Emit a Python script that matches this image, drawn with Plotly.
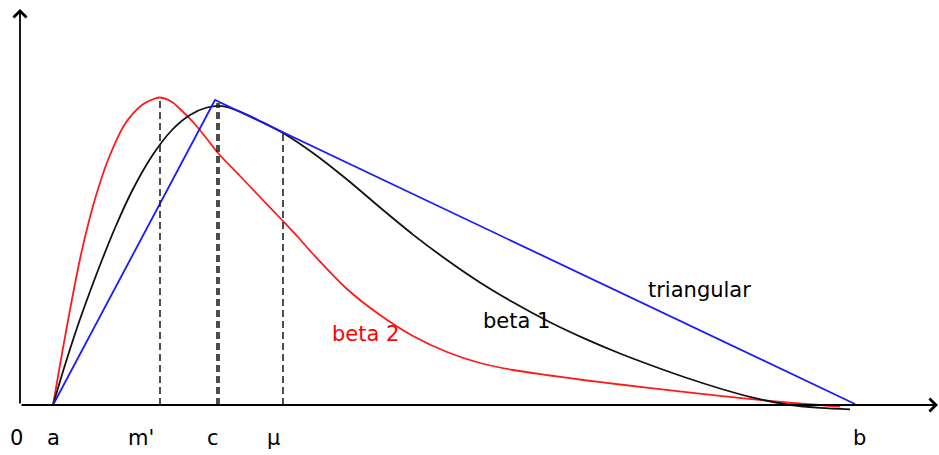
import plotly.graph_objects as go

# ---------------------------------------------
# Values
# (x = distance from the y axis, y = height above the x axis)
# ---------------------------------------------
beta2_x = [33, 40, 47, 53, 60, 65, 75, 88, 105, 122, 135, 140, 152, 160, 173, 187,
           198, 220, 240, 262, 277, 293, 327, 360, 393, 427, 460, 493, 530, 567,
           600, 633, 700, 767, 820]
beta2_y = [0, 40, 79, 111, 146, 168, 206, 245, 281, 300, 306.5, 307.5, 303, 296, 283, 266,
           252, 229, 208, 185, 169, 151, 116, 90, 69, 53, 42, 35, 29.5, 24.5,
           20.5, 16.6, 9.1, 2.5, -1.5]

beta1_x = [33, 45, 58, 68, 82, 95, 112, 132, 152, 170, 187, 202, 220, 240, 263, 293,
           327, 360, 393, 427, 460, 493, 530, 567, 600, 633, 667, 700, 733, 767,
           800, 830]
beta1_y = [0, 40, 80, 108, 145, 177, 214, 249, 275, 290, 297.5, 298.8, 293.4, 284, 272, 252,
           225.5, 197.5, 170.4, 145, 122.5, 102.7, 82.8, 65.4, 51.5, 39, 27, 16.5, 7.3, 0.5,
           -2.8, -4.3]

tri_x = [33, 195, 835]
tri_y = [0, 305, 1]

# dashed markers: m', c (two lines), mu
guide_x = [140, 197, 199, 263]
guide_top = [308, 302, 302, 272]

tick_x = [-4, 33, 121, 193, 253, 839]
tick_text = ["0", "a", "m'", "c", "μ", "b"]

curve_labels = ["triangular", "beta 1", "beta 2"]
curve_label_x = [679, 496, 345]
curve_label_y = [115, 84, 71]
curve_label_col = ["black", "black", "red"]

fig = go.Figure()

fig.add_trace(go.Scatter(x=beta2_x, y=beta2_y, mode="lines",
                         line=dict(color="#ff1a1a", width=1.8, shape="spline", smoothing=0.9),
                         showlegend=False))
fig.add_trace(go.Scatter(x=beta1_x, y=beta1_y, mode="lines",
                         line=dict(color="#111111", width=1.8, shape="spline", smoothing=0.9),
                         showlegend=False))
fig.add_trace(go.Scatter(x=tri_x, y=tri_y, mode="lines",
                         line=dict(color="#1a1aff", width=1.8),
                         showlegend=False))

for gx, gt in zip(guide_x, guide_top):
    fig.add_shape(type="line", x0=gx, x1=gx, y0=0, y1=gt,
                  line=dict(color="#222222", width=1.6, dash="7px,4px"))

# axes with open arrow heads
fig.add_annotation(x=0, y=396, ax=0, ay=0, xref="x", yref="y", axref="x", ayref="y",
                   showarrow=True, arrowhead=4, arrowsize=1.4, arrowwidth=1.8,
                   arrowcolor="black", text="")
fig.add_annotation(x=918, y=0, ax=0, ay=0, xref="x", yref="y", axref="x", ayref="y",
                   showarrow=True, arrowhead=4, arrowsize=1.4, arrowwidth=1.8,
                   arrowcolor="black", text="")

for tx, tt in zip(tick_x, tick_text):
    fig.add_annotation(x=tx, y=-33, text=tt, showarrow=False,
                       font=dict(family="DejaVu Sans", size=21, color="black"))

for lt, lx, ly, lc in zip(curve_labels, curve_label_x, curve_label_y, curve_label_col):
    fig.add_annotation(x=lx, y=ly, text=lt, showarrow=False,
                       font=dict(family="DejaVu Sans", size=21, color=lc))

fig.update_layout(
    width=939,
    height=455,
    margin=dict(l=0, r=0, t=0, b=0),
    paper_bgcolor="white",
    plot_bgcolor="white",
    xaxis=dict(range=[-20, 919], visible=False, fixedrange=True),
    yaxis=dict(range=[-50, 405], visible=False, fixedrange=True),
)

# page body has an 8px default margin, drop it so the plot fills the window
fig.write_html("out.html", post_script="document.body.style.margin='0';",
               config={"displayModeBar": False})
